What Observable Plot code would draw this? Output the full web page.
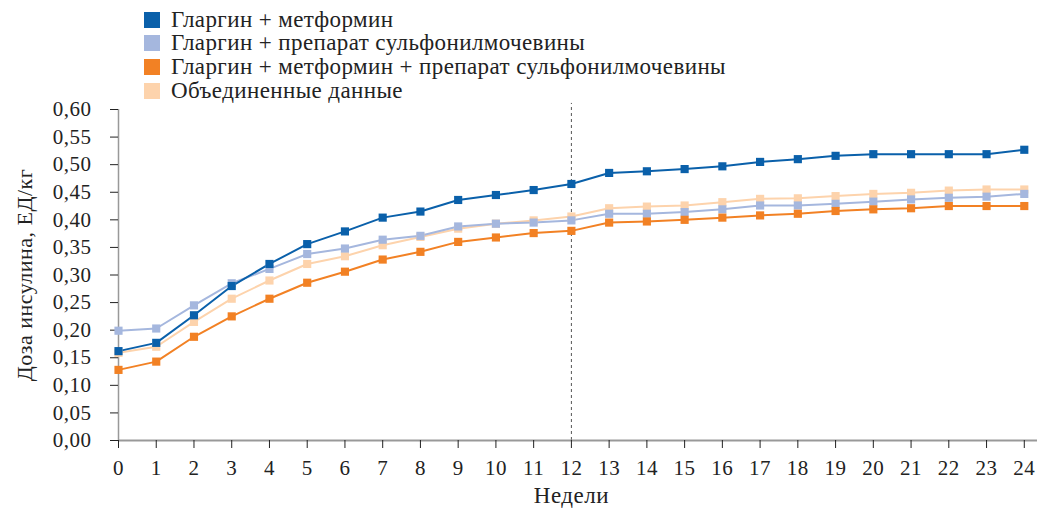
<!DOCTYPE html>
<html><head><meta charset="utf-8">
<script src="https://cdn.jsdelivr.net/npm/d3@7"></script>
<script src="https://cdn.jsdelivr.net/npm/@observablehq/plot@0.6"></script>
<style>
body{margin:0;background:#fff;font-family:"Liberation Serif","DejaVu Serif",serif;color:#222;}
#legend{position:relative;height:90px;width:1051px;}
.item{position:absolute;left:144px;height:24px;display:flex;align-items:center;font-size:23px;letter-spacing:0.4px;white-space:nowrap;}
.sw{width:16px;height:16px;margin-right:11px;display:inline-block;}
svg{overflow:visible;}
</style></head>
<body>
<div id="legend"></div>
<div id="chart"></div>
<script>
const weeks = [0,1,2,3,4,5,6,7,8,9,10,11,12,13,14,15,16,17,18,19,20,21,22,23,24];
const seriesNames = [
  "Гларгин + метформин",
  "Гларгин + препарат сульфонилмочевины",
  "Гларгин + метформин + препарат сульфонилмочевины",
  "Объединенные данные"
];
const seriesColors = ["#0A60AA", "#A5B7DE", "#F28124", "#FDD3AC"];
const glarginMetformin = [0.162,0.177,0.227,0.280,0.320,0.356,0.379,0.404,0.415,0.436,0.445,0.454,0.465,0.485,0.488,0.492,0.497,0.505,0.510,0.516,0.519,0.519,0.519,0.519,0.527];
const glarginSU = [0.199,0.203,0.245,0.285,0.311,0.338,0.348,0.364,0.371,0.388,0.393,0.395,0.399,0.411,0.411,0.414,0.419,0.426,0.426,0.429,0.433,0.437,0.440,0.442,0.447];
const glarginMetforminSU = [0.128,0.143,0.188,0.225,0.257,0.286,0.306,0.328,0.342,0.360,0.368,0.376,0.380,0.395,0.397,0.400,0.404,0.408,0.411,0.416,0.419,0.421,0.425,0.425,0.425];
const pooled = [0.159,0.170,0.215,0.257,0.290,0.320,0.334,0.354,0.369,0.384,0.393,0.399,0.406,0.421,0.424,0.426,0.432,0.438,0.439,0.443,0.447,0.449,0.453,0.455,0.455];
const yTicks = [0,0.05,0.10,0.15,0.20,0.25,0.30,0.35,0.40,0.45,0.50,0.55,0.60];
const dividerWeek = 12;
const yLabel = "Доза инсулина, ЕД/кг";
const xLabel = "Недели";

const allSeries = [glarginMetformin, glarginSU, glarginMetforminSU, pooled];
const rows = [];
allSeries.forEach((vals, si) => vals.forEach((v, i) => rows.push({week: weeks[i], value: v, series: seriesNames[si]})));

const lg = document.getElementById("legend");
seriesNames.forEach((n, i) => {
  const d = document.createElement("div");
  d.className = "item";
  d.style.top = (7.5 + i * 23.8) + "px";
  d.innerHTML = `<span class="sw" style="background:${seriesColors[i]}"></span>${n}`;
  lg.appendChild(d);
});

const drawOrder = [3, 1, 2, 0];
const marks = [];
drawOrder.forEach(si => {
  const data = rows.filter(r => r.series === seriesNames[si]);
  marks.push(Plot.line(data, {x: "week", y: "value", stroke: seriesColors[si], strokeWidth: 2}));
});
drawOrder.forEach(si => {
  const data = rows.filter(r => r.series === seriesNames[si]);
  marks.push(Plot.dot(data, {x: "week", y: "value", fill: seriesColors[si], symbol: "square", r: 4.6}));
});

const fmt = d => d.toFixed(2).replace(".", ",");
const chart = Plot.plot({
  width: 1051, height: 420,
  marginLeft: 118, marginRight: 14, marginTop: 19, marginBottom: 70,
  style: {fontFamily: "'Liberation Serif', 'DejaVu Serif', serif", fontSize: "21px", color: "#222", background: "#fff", overflow: "visible", letterSpacing: "0.5px"},
  x: {domain: [0, 24.35]},
  y: {domain: [0, 0.6]},
  marks: [
    Plot.ruleX([dividerWeek], {y1: 0, y2: 0.611, stroke: "#555", strokeDasharray: "3,3", strokeWidth: 1}),
    Plot.ruleY([0], {stroke: "#999", strokeWidth: 2}),
    Plot.ruleX([0], {stroke: "#999", strokeWidth: 1.5}),
    Plot.axisY(yTicks, {tickFormat: () => "", tickSize: 8, label: null, stroke: "#222"}),
    Plot.text(yTicks, {y: d => d, text: fmt, frameAnchor: "left", textAnchor: "end", dx: -27, fontSize: 21, fill: "#222"}),
    Plot.axisX(weeks, {tickFormat: d => String(d), tickSize: 8, tickPadding: 12, label: null, stroke: "#222", fill: "#222"}),
    Plot.text([yLabel], {frameAnchor: "left", textAnchor: "middle", rotate: -90, dx: -94, fontSize: 22, fill: "#222"}),
    Plot.text([xLabel], {x: [dividerWeek], frameAnchor: "bottom", dy: 62, fontSize: 23, fill: "#222"}),
    ...marks
  ]
});
document.getElementById("chart").appendChild(chart);
</script>
</body></html>
